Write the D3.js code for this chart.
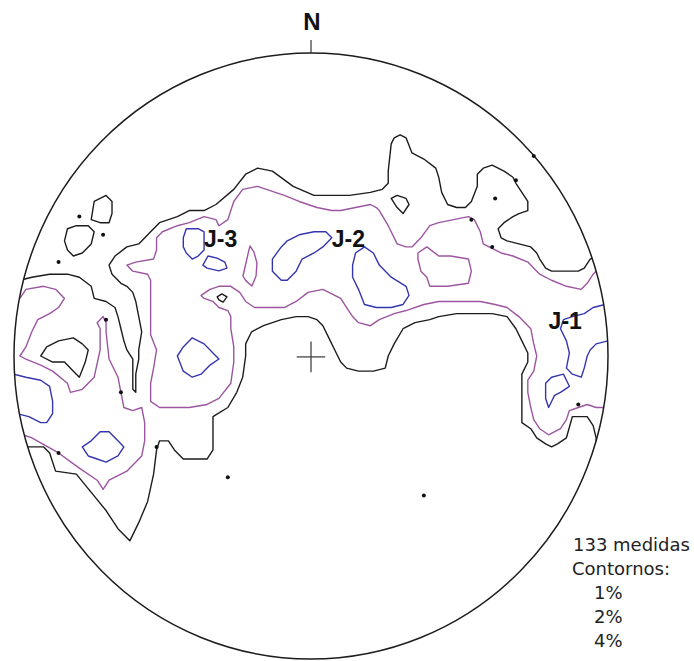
<!DOCTYPE html>
<html>
<head>
<meta charset="utf-8">
<script src="https://cdn.jsdelivr.net/npm/d3@7"></script>
<style>
  html, body { margin: 0; padding: 0; background: #fff; }
  svg { display: block; }
</style>
</head>
<body>
<svg id="chart" width="694" height="661"></svg>
<script>
// Equal-area net, coordinates in percent of the net radius (east = +x, north = +y)

// 1% contour lines
const contour1 = [
  { closed: false, pts: [[-98,25],[-94,26],[-88,27],[-82,27],[-78,26],[-74,23],[-73,19],[-69,18],[-66,16],[-65,13],[-64,9],[-63,5],[-62,2],[-60,-1],[-60,-6],[-60,-11],[-59,-12],[-59,-11],[-59,-6],[-58,-1],[-58,2],[-57,8],[-58,13],[-59,18],[-60,21],[-62,23],[-64,24],[-67,27],[-68,30],[-66,33],[-62,36],[-58,37],[-54,41],[-51,44],[-45,46],[-41,48],[-36,48],[-32,50],[-26,55],[-22,60],[-18,62],[-13,61],[-6,56],[1,53],[7,53],[13,53],[20,54],[24,55],[26,57],[26,61],[27,70],[28,72],[30,73],[32,72],[34,67],[38,65],[42,62],[43,59],[44,54],[46,50],[49,49],[52,49],[54,51],[56,56],[56,60],[58,62],[61,63],[65,61],[68,59],[69,57],[71,54],[73,51],[73,48],[70,47],[68,46],[65,44],[63,42],[64,39],[66,38],[70,37],[74,36],[76,34],[77,32],[79,29],[81,28],[86,28],[90,28],[92,29],[94,32],[96,33]] },
  { closed: false, pts: [[95,-35],[96,-32],[96,-27],[95,-23],[93,-20],[90,-20],[88,-20],[86,-27],[83,-29],[81,-30],[79,-29],[76,-27],[74,-24],[71,-22],[71,-19],[71,-16],[71,-10],[71,-6],[73,-2],[73,1],[71,5],[69,9],[66,13],[61,14],[57,14],[49,14],[43,13],[40,12],[35,11],[31,9],[28,4],[26,0],[25,-4],[21,-5],[16,-5],[12,-4],[10,-2],[8,2],[6,6],[4,10],[2,12],[-1,13],[-5,13],[-10,12],[-16,10],[-20,8],[-22,4],[-22,0],[-23,-7],[-25,-12],[-28,-17],[-33,-20],[-33,-24],[-33,-31],[-35,-34],[-43,-34],[-46,-31],[-48,-28],[-51,-28],[-52,-31],[-53,-39],[-55,-48],[-58,-55],[-61,-61],[-65,-57],[-69,-51],[-74,-45],[-79,-39],[-86,-38],[-88,-32],[-90,-30],[-97,-30]] },
  { closed: true, pts: [[-83,38],[-82,42],[-79,43],[-75,43],[-73,41],[-74,37],[-77,34],[-80,33],[-82,35]] },
  { closed: true, pts: [[-74,45],[-73,51],[-69,53],[-67,51],[-67,47],[-68,44],[-71,44]] },
  { closed: true, pts: [[27,52],[29,53],[32,52],[33,50],[31,47],[29,49]] },
  { closed: true, pts: [[-91,0],[-89,3],[-85,5],[-80,6],[-77,4],[-75,2],[-76,-2],[-78,-7],[-80,-5],[-83,-2],[-87,-2]] },
  { closed: true, pts: [[-31.6,19.5],[-30,20.5],[-28.3,19.5],[-29.6,17.8],[-31,18.5]] }
];

// 2% contour lines
const contour2 = [
  { closed: false, pts: [[-98,19],[-96,22],[-90,23],[-86,22],[-83,19],[-85,16],[-88,14],[-92,12],[-94,8],[-96,3],[-98,0],[-96,-1],[-91,-3],[-87,-5],[-82,-9],[-81,-12],[-77,-11],[-73,-7],[-71,2],[-71,9],[-72,11],[-70,13],[-69,11],[-69,8],[-68,-1],[-65,-7],[-64,-12],[-63,-17],[-60,-18],[-57,-17],[-56,-22],[-56,-28],[-57,-33],[-62,-38],[-68,-41],[-70,-44],[-72,-41],[-78,-37],[-85,-32],[-94,-27],[-97,-26]] },
  { closed: false, pts: [[96,28],[95,27],[93,24],[91,22],[86,23],[81,25],[77,27],[73,31],[68,33],[64,34],[60,36],[58,37],[57,41],[55,45],[53,46],[48,45],[43,44],[40,43],[37,39],[34,36],[32,36],[29,37],[26,43],[23,48],[22,49],[20,50],[15,49],[10,48],[7,48],[2,49],[-4,51],[-9,53],[-15,55],[-18,56],[-23,55],[-26,51],[-27,48],[-28,45],[-31,43],[-32,45],[-36,46],[-41,44],[-45,43],[-50,41],[-52,39],[-52,35],[-53,32],[-59,31],[-62,30],[-60,28],[-55,27],[-54,25],[-54,19],[-54,13],[-54,7],[-52,2],[-53,-4],[-54,-9],[-54,-15],[-51,-17],[-45,-17],[-41,-17],[-35,-16],[-31,-14],[-27,-9],[-26,-2],[-26,3],[-27,9],[-27,13],[-28,15],[-31,16],[-33,18],[-36,19],[-37,20],[-34,22],[-31,23],[-27,23],[-24,21],[-22,18],[-19,16],[-15,16],[-9,16],[-5,18],[-1,21],[4,22],[10,19],[12,16],[14,13],[16,11],[20,10],[23,12],[28,14],[32,15],[38,17],[43,18],[50,18],[57,18],[62,17],[66,16],[70,13],[74,9],[75,4],[76,0],[75,-5],[73,-8],[73,-12],[74,-17],[75,-21],[77,-24],[80,-26],[84,-24],[86,-21],[87,-18],[90,-17],[93,-16],[96,-17],[99,-17]] },
  { closed: true, pts: [[-20.5,36.3],[-19.2,34.3],[-18.2,30.7],[-18.5,26.4],[-19.9,23.1],[-21.9,24.8],[-22.9,26.4],[-21.9,30.7],[-20.9,35.0]] },
  { closed: true, pts: [[36,34],[39,36],[43,33],[47,33],[53,32],[54,28],[53,24],[46,23],[40,23],[39,26],[37,28],[36,32]] }
];

// 4% contour lines
const contour4 = [
  { closed: true, pts: [[-43,39],[-42,42],[-38,42],[-36,41],[-36,38],[-36,35],[-38,33],[-40,32],[-42,34],[-43,36]] },
  { closed: true, pts: [[-36.4,30.0],[-34.7,33.0],[-31.6,32.3],[-29.0,31.0],[-28.3,29.0],[-31.0,28.1],[-35.0,29.0]] },
  { closed: true, pts: [[-13,32],[-10,36],[-8,38],[-4,40],[1,41],[5,41],[7,39],[4,36],[1,34],[-3,32],[-5,28],[-8,25],[-10,25],[-13,28]] },
  { closed: true, pts: [[14,30],[15,34],[18,36],[21,34],[23,30],[27,26],[32,23],[33,20],[31,17],[27,16],[22,16],[18,17],[16,22],[14,26]] },
  { closed: true, pts: [[-45,0],[-43,3],[-40,6],[-36,4],[-33,1],[-31,-1],[-34,-3],[-37,-6],[-40,-7],[-43,-5]] },
  { closed: false, pts: [[-100,-6],[-96,-7],[-91,-8],[-88,-10],[-87,-15],[-87,-19],[-89,-22],[-91,-22],[-95,-20],[-99,-19]] },
  { closed: true, pts: [[-77,-30],[-74,-28],[-71,-25],[-68,-25],[-65,-28],[-63,-30],[-65,-33],[-69,-35],[-72,-34],[-75,-33]] },
  { closed: false, pts: [[99,17],[95,16],[92,14],[88,13],[85,12],[84,9],[86,5],[87,1],[86,-4],[88,-6],[91,-7],[92,-4],[93,0],[94,2],[96,4],[100,5]] },
  { closed: true, pts: [[79,-9],[81,-7],[85,-6],[86,-8],[87,-10],[84,-12],[82,-13],[81,-15],[80,-17],[79,-14],[79,-10]] }
];

// Individual poles drawn as dots
const poles = [[-78,46],[-70,40],[-85,31],[-69,12],[-64,-12],[-85,-32],[-52,-30],[-28,-40],[38,-46],[90,-16],[62,52],[69,58],[75,66],[54,45],[61,36]];

// Joint-set maxima labels
const jointSets = [
  { name: "J-3", pos: [-36,36] },
  { name: "J-2", pos: [7,36] },
  { name: "J-1", pos: [80,9] }
];

const measurementCount = 133;
const legendTitle = "Contornos:";
const contourLevels = ["1%", "2%", "4%"];

const svg = d3.select("#chart");

const x = d3.scaleLinear().domain([-100, 100]).range([14, 608]);
const y = d3.scaleLinear().domain([-100, 100]).range([659, 53]);

const cx = x(0), cy = y(0);
const rx = x(100) - x(0), ry = y(-100) - y(0);

svg.append("defs").append("clipPath").attr("id", "net-clip")
  .append("ellipse").attr("cx", cx).attr("cy", cy).attr("rx", rx).attr("ry", ry);

const openLine = d3.line().x(d => x(d[0])).y(d => y(d[1])).curve(d3.curveLinear);
const closedLine = d3.line().x(d => x(d[0])).y(d => y(d[1])).curve(d3.curveLinearClosed);

const contourLayer = svg.append("g").attr("clip-path", "url(#net-clip)");

function drawContours(set, color) {
  contourLayer.append("g")
    .selectAll("path")
    .data(set)
    .join("path")
    .attr("d", d => (d.closed ? closedLine : openLine)(d.pts))
    .attr("fill", "none")
    .attr("stroke", color)
    .attr("stroke-width", 1.4)
    .attr("stroke-linejoin", "round");
}

drawContours(contour1, "#1c1c1c");
drawContours(contour2, "#9c55a0");
drawContours(contour4, "#3535b0");

// primitive circle
svg.append("ellipse")
  .attr("cx", cx).attr("cy", cy).attr("rx", rx).attr("ry", ry)
  .attr("fill", "none").attr("stroke", "#1c1c1c").attr("stroke-width", 1.5);

// north tick and label
svg.append("line")
  .attr("x1", cx).attr("x2", cx)
  .attr("y1", y(100)).attr("y2", y(100) - 13)
  .attr("stroke", "#333").attr("stroke-width", 1.2);
svg.append("text")
  .attr("x", cx + 1).attr("y", 30)
  .attr("text-anchor", "middle")
  .attr("font-family", "'Liberation Sans', Arial, sans-serif")
  .attr("font-weight", "bold").attr("font-size", 24)
  .attr("fill", "#111")
  .text("N");

// centre cross
const arm = 4.8;
svg.append("line")
  .attr("x1", x(-arm)).attr("x2", x(arm)).attr("y1", y(-0.3)).attr("y2", y(-0.3))
  .attr("stroke", "#444").attr("stroke-width", 1.3);
svg.append("line")
  .attr("x1", x(0)).attr("x2", x(0)).attr("y1", y(arm)).attr("y2", y(-arm - 0.6))
  .attr("stroke", "#444").attr("stroke-width", 1.3);

// poles
svg.append("g")
  .selectAll("circle")
  .data(poles)
  .join("circle")
  .attr("cx", d => x(d[0])).attr("cy", d => y(d[1]))
  .attr("r", 2).attr("fill", "#111");

// joint-set labels
svg.append("g")
  .selectAll("text")
  .data(jointSets)
  .join("text")
  .attr("x", d => x(d.pos[0]))
  .attr("y", d => y(d.pos[1]))
  .attr("font-family", "'Liberation Sans', Arial, sans-serif")
  .attr("font-weight", "bold").attr("font-size", 23)
  .attr("fill", "#111")
  .text(d => d.name);

// legend
const legend = svg.append("g")
  .attr("font-family", "'DejaVu Sans', sans-serif")
  .attr("font-size", 18)
  .attr("fill", "#222");
legend.append("text").attr("x", 573).attr("y", 551).text(`${measurementCount} medidas`);
legend.append("text").attr("x", 572).attr("y", 575).text(legendTitle);
legend.selectAll("text.level")
  .data(contourLevels)
  .join("text")
  .attr("class", "level")
  .attr("x", 594)
  .attr("y", (d, i) => 599 + i * 24)
  .text(d => d);
</script>
</body>
</html>
